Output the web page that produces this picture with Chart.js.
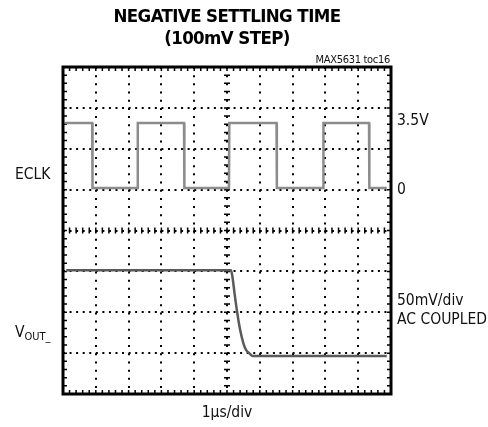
<!DOCTYPE html>
<html>
<head>
<meta charset="utf-8">
<script src="https://cdn.jsdelivr.net/npm/chart.js@4/dist/chart.umd.min.js"></script>
<style>
  html, body { margin: 0; padding: 0; background: #fff; }
  #wrap { position: relative; width: 488px; height: 427px; overflow: hidden; }
  #myChart { position: absolute; left: 0; top: 0; }
  .lbl { position: absolute; white-space: nowrap; color: #111;
         font-family: "DejaVu Sans Condensed", "Liberation Sans", sans-serif;
         font-size: 15.5px; line-height: 1; transform: translateY(-50%); }
  .title { font-weight: bold; font-size: 18.5px; letter-spacing: -0.6px; width: 488px; text-align: center; color: #000; }
  .small { font-size: 11px; letter-spacing: -0.3px; }
</style>
</head>
<body>
<div id="wrap">
  <canvas id="myChart" width="488" height="427"></canvas>
</div>
<script>
'use strict';

// Chart data

// time axis in divisions (1us/div), y axis in screen divisions (0 = bottom)
let eclkTime = [0.05, 0.89, 0.90, 2.27, 2.28, 3.69, 3.70, 5.06, 5.07, 6.51, 6.52, 7.93, 7.94, 9.33, 9.34, 9.87];
let eclkLevel = [6.63, 6.63, 5.04, 5.04, 6.63, 6.63, 5.04, 5.04, 6.63, 6.63, 5.04, 5.04, 6.63, 6.63, 5.04, 5.04];

let voutTime = [0.10, 5.12, 5.16, 5.24, 5.31, 5.40, 5.50, 5.58, 5.70, 5.78, 9.87];
let voutLevel = [3.03, 3.03, 2.90, 2.40, 2.00, 1.57, 1.24, 1.08, 0.98, 0.93, 0.93];

let titleLines = ['NEGATIVE SETTLING TIME', '(100mV STEP)'];
let chartTag = 'MAX5631 toc16';
let leftLabels = ['ECLK', 'V<sub style="font-size:11px;vertical-align:-3px">OUT_</sub>'];
let rightLabels = ['3.5V', '0', '50mV/div', 'AC COUPLED'];
let xAxisLabel = '1\u03bcs/div';

let xDivs = 10;
let yDivs = 8;

//Helper Functions

function toPoints(xs, ys) {
  let pts = [];
  for (let i = 0; i < xs.length; i++) {
    pts.push({ x: xs[i], y: ys[i] });
  }
  return pts;
}

function addLabel(html, cls, left, top) {
  let div = document.createElement('div');
  div.className = 'lbl ' + cls;
  div.innerHTML = html;
  if (left !== null) div.style.left = left + 'px';
  div.style.top = top + 'px';
  document.getElementById('wrap').appendChild(div);
  return div;
}

// scope frame, minor ticks and center crosshair
const scopePlugin = {
  id: 'scope',
  beforeDatasetsDraw(chart) {
    let ctx = chart.ctx;
    let xs = chart.scales.x;
    let ys = chart.scales.y;
    let a = chart.chartArea;
    let cx = xs.getPixelForValue(xDivs / 2);
    let cy = ys.getPixelForValue(yDivs / 2);
    ctx.save();
    ctx.strokeStyle = '#000';
    ctx.lineWidth = 1.5;
    ctx.beginPath();
    for (let i = 0; i <= xDivs * 5; i++) {
      let px = xs.getPixelForValue(i / 5);
      ctx.moveTo(px, a.top); ctx.lineTo(px, a.top + 4);
      ctx.moveTo(px, a.bottom); ctx.lineTo(px, a.bottom - 4);
      ctx.moveTo(px, cy - 3); ctx.lineTo(px, cy + 3);
    }
    for (let j = 0; j <= yDivs * 5; j++) {
      let py = ys.getPixelForValue(j / 5);
      ctx.moveTo(a.left, py); ctx.lineTo(a.left + 4, py);
      ctx.moveTo(a.right, py); ctx.lineTo(a.right - 4, py);
      ctx.moveTo(cx - 3, py); ctx.lineTo(cx + 3, py);
    }
    ctx.stroke();
    ctx.restore();
  },
  afterDraw(chart) {
    let ctx = chart.ctx;
    let a = chart.chartArea;
    ctx.save();
    ctx.strokeStyle = '#000';
    ctx.lineWidth = 3;
    ctx.strokeRect(a.left, a.top, a.right - a.left, a.bottom - a.top);
    ctx.restore();
  }
};

let ctx = document.getElementById('myChart').getContext('2d');
const myChart = new Chart(ctx, {
  type: 'line',
  data: {
    datasets: [{
      label: 'ECLK',
      data: toPoints(eclkTime, eclkLevel),
      borderColor: '#8c8c8c',
      borderWidth: 2.5,
      pointRadius: 0,
      tension: 0
    },
    {
      label: 'VOUT',
      data: toPoints(voutTime, voutLevel),
      borderColor: '#5a5a5a',
      borderWidth: 2.5,
      pointRadius: 0,
      cubicInterpolationMode: 'monotone'
    }]
  },
  options: {
    responsive: false,
    animation: false,
    layout: {
      padding: { left: 63, top: 67, right: 97, bottom: 33 }
    },
    plugins: {
      legend: { display: false },
      tooltip: { enabled: false }
    },
    scales: {
      x: {
        type: 'linear',
        min: 0,
        max: xDivs,
        ticks: { display: false, stepSize: 1 },
        grid: { color: '#000', lineWidth: 2, drawTicks: false },
        border: { display: false, dash: [2, 6.18] }
      },
      y: {
        type: 'linear',
        min: 0,
        max: yDivs,
        ticks: { display: false, stepSize: 1 },
        grid: { color: '#000', lineWidth: 2, drawTicks: false },
        border: { display: false, dash: [2, 4.56] }
      }
    }
  },
  plugins: [scopePlugin]
});

// text around the scope
addLabel(titleLines[0], 'title', -17, 16);
addLabel(titleLines[1], 'title', -17, 38);
let tag = addLabel(chartTag, 'small', null, 59);
tag.style.right = (488 - 390) + 'px';

addLabel(leftLabels[0], '', 15, 175);
addLabel(leftLabels[1], '', 15, 333);

addLabel(rightLabels[0], '', 397, 121);
addLabel(rightLabels[1], '', 397, 190);
addLabel(rightLabels[2], '', 397, 301);
addLabel(rightLabels[3], '', 397, 320);

let xl = addLabel(xAxisLabel, '', -17, 413);
xl.style.width = '488px';
xl.style.textAlign = 'center';
</script>
</body>
</html>
